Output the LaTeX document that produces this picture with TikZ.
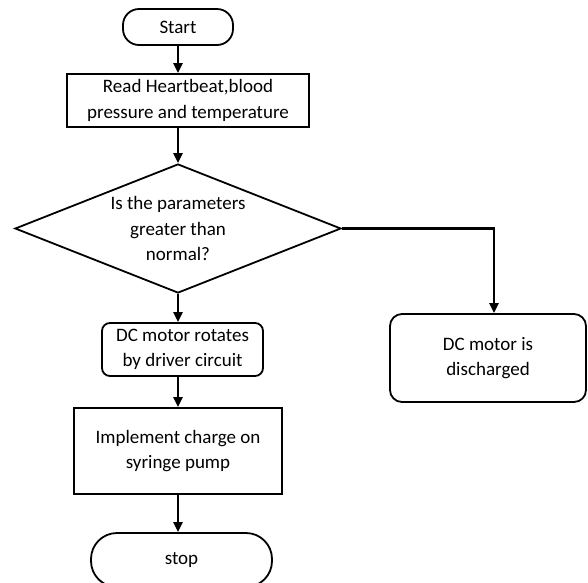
\documentclass[tikz,border=0pt]{standalone}
\usepackage{fontspec}
\setmainfont{Carlito}
\usetikzlibrary{shapes.geometric,arrows.meta}
\tikzset{
  box/.style={draw, line width=1.8pt, align=center, inner sep=0pt,
    font=\fontsize{19}{25.5}\selectfont},
  roundbox/.style={box, rounded corners=#1},
  flow/.style={line width=2.8pt, -{Triangle[length=10pt,width=9pt]}}
}
\begin{document}
\begin{tikzpicture}[x=1pt,y=-1pt]
    \useasboundingbox (0,0) rectangle (588,582);
    \node[roundbox=16pt, minimum width=110pt, minimum height=36pt] (start) at (178,27) {Start};
    \node[box, minimum width=242pt, minimum height=53pt] (read) at (188,100.5) {Read Heartbeat,blood\\pressure and temperature};
    \node[box, diamond, aspect=2.53, minimum width=326pt, minimum height=129pt] (cond) at (178,228.5) {Is the parameters\\greater than\\normal?};
    \node[roundbox=8pt, minimum width=161pt, minimum height=53pt] (rotate) at (182.5,349.5) {DC motor rotates\\by driver circuit};
    \node[box, minimum width=208pt, minimum height=86pt] (pump) at (178,451) {Implement charge on\\syringe pump};
    \node[roundbox=26pt, minimum width=181pt, minimum height=54pt] (stop) at (181.5,560) {stop};
    \node[roundbox=12pt, minimum width=196pt, minimum height=88pt] (disch) at (488,358) {DC motor is\\discharged};
    \coordinate (dtop) at ([xshift=6pt]disch.north);
    \draw[flow] (start) -- (start |- read.north);
    \draw[flow] (read.south -| cond) -- (cond.north);
    \draw[flow] (cond.south) -- (rotate.north -| cond);
    \draw[flow] (rotate.south -| cond) -- (pump.north);
    \draw[flow] (pump.south) -- (pump |- stop.north);
    \draw[flow] (cond.east) -| (dtop);
\end{tikzpicture}
\end{document}
